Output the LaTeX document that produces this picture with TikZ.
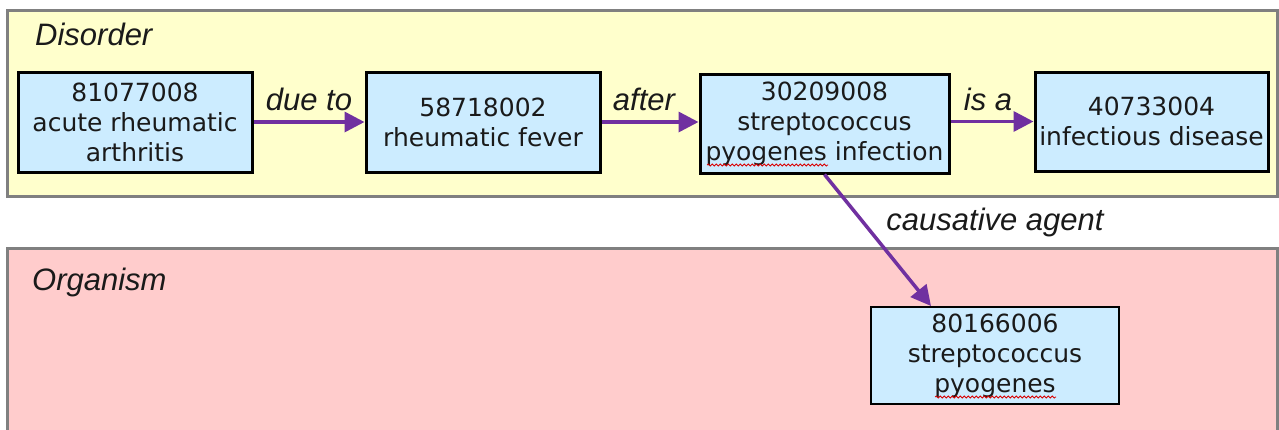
\documentclass[tikz,border=0pt]{standalone}
\usepackage{fontspec}
\setmainfont{DejaVu Sans}
\newfontfamily\labfont{Liberation Sans}
\usetikzlibrary{arrows.meta,calc,decorations.pathmorphing}
\definecolor{yellowbg}{HTML}{FFFFCC}
\definecolor{pinkbg}{HTML}{FFCCCC}
\definecolor{boxbg}{HTML}{CCECFF}
\definecolor{framegray}{HTML}{808080}
\definecolor{arrowpurple}{HTML}{7030A0}
\definecolor{txt}{HTML}{1A1A1A}
\tikzset{
  region/.style={draw=framegray, line width=3pt},
  concept/.style={draw=black, line width=3pt, fill=boxbg, align=center, inner sep=0pt,
    text=txt, font=\fontsize{25}{30}\selectfont},
  rel/.style={draw=arrowpurple, line width=3.5pt, -{Triangle[length=20pt,width=20pt]}},
  rellabel/.style={anchor=base, text=txt, inner sep=0pt, font=\labfont\itshape\fontsize{31}{36}\selectfont},
  title/.style={anchor=base west, text=txt, inner sep=0pt, font=\labfont\itshape\fontsize{31}{36}\selectfont},
  spell/.style={draw=red!85!black, line width=0.8pt, decorate,
    decoration={snake, amplitude=1pt, segment length=4pt}}
}
\begin{document}
\begin{tikzpicture}[x=1pt,y=-1pt]
\useasboundingbox (0,0) rectangle (1279,429);
\fill[white] (0,0) rectangle (1279,429);
\begin{scope}
\clip (0,0) rectangle (1279,429);
\draw[region, fill=yellowbg] (7,10) rectangle (1277,196);
\draw[region, fill=pinkbg] (7,248) rectangle (1277,445);
\end{scope}
\node[title] (tdis) at (35,45) {Disorder};
\node[title] (torg) at (32,290) {Organism};

\node[concept, minimum width=234pt, minimum height=100pt] (B1) at (135,122)
  {81077008\\acute rheumatic\\arthritis};
\node[concept, minimum width=234pt, minimum height=100pt] (B2) at (483,122)
  {58718002\\rheumatic fever};
\node[concept, minimum width=249pt, minimum height=99pt] (B3) at (824.5,123.5)
  {30209008\\streptococcus\\pyogenes infection};
\node[concept, minimum width=233pt, minimum height=99pt] (B4) at (1151.5,121.5)
  {40733004\\infectious disease};
\node[concept, line width=2pt, minimum width=248pt, minimum height=97pt] (B5) at (995,355.5)
  {80166006\\streptococcus\\pyogenes};

\draw[rel] (B1.east) -- (B2.west);
\draw[rel] (B2.east) -- (B2.east -| B3.west);
\draw[rel] (B3.east |- B4.west) -- (B4.west);
\coordinate (t5) at ($(B5.north west)+(61,0)$);
\draw[rel] (B3.south) -- (t5);

\node[rellabel] (l1) at (309,110) {due to};
\node[rellabel] (l2) at (644,110) {after};
\node[rellabel] (l3) at (988,110) {is a};
\node[rellabel] (l4) at (995,230) {causative agent};

\draw[spell] (707,165) -- (828,165);
\draw[spell] (935,397) -- (1056,397);
\end{tikzpicture}
\end{document}
